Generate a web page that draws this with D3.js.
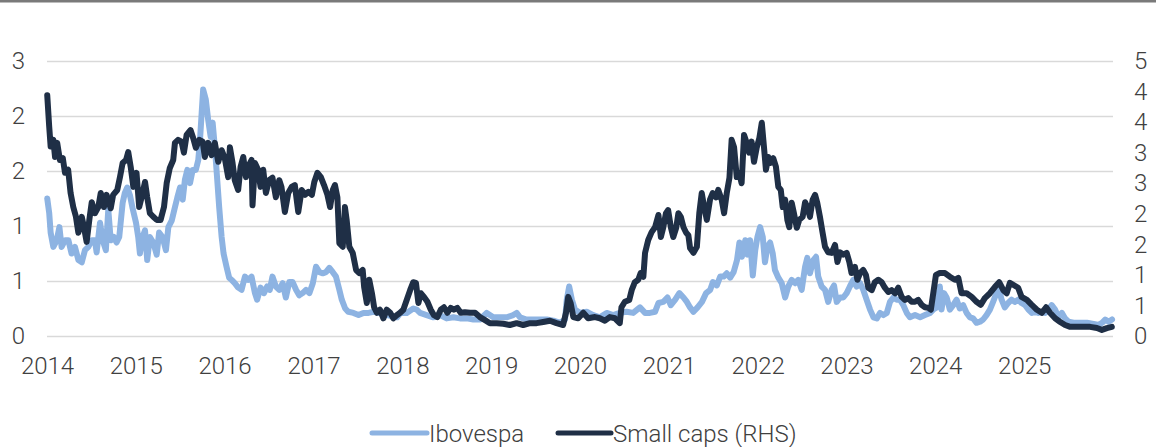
<!DOCTYPE html>
<html>
<head>
<meta charset="utf-8">
<script src="https://cdn.jsdelivr.net/npm/d3@7"></script>
<style>
  html, body { margin: 0; padding: 0; background: #fff; }
  svg { display: block; }
  text { font-family: Roboto, "Noto Sans", sans-serif; font-weight: 300; fill: #404040; }
</style>
</head>
<body>
<svg id="chart" width="1156" height="447"></svg>
<script>
// Ibovespa (left axis)
const ibovDates = [
  "2014-01-02","2014-01-10","2014-01-16","2014-01-27","2014-02-10","2014-02-21","2014-03-02","2014-03-16","2014-03-30","2014-04-12","2014-04-26","2014-05-10","2014-05-24","2014-06-06","2014-06-20","2014-07-04","2014-07-17","2014-07-24","2014-08-07","2014-08-18","2014-08-31","2014-09-10","2014-09-20","2014-10-03","2014-10-14","2014-10-25","2014-11-08","2014-11-17","2014-11-27","2014-12-08","2014-12-19",
  "2015-01-02","2015-01-11","2015-01-18","2015-01-29","2015-02-08","2015-02-17","2015-02-28","2015-03-14","2015-03-28","2015-04-07","2015-04-21","2015-05-05","2015-05-15","2015-05-29","2015-06-11","2015-06-21","2015-07-02","2015-07-13","2015-07-22","2015-08-01","2015-08-12","2015-08-23","2015-09-05","2015-09-15","2015-09-22","2015-09-29","2015-10-05","2015-10-16","2015-10-26","2015-11-05","2015-11-13","2015-11-22","2015-11-29","2015-12-10","2015-12-20","2015-12-28",
  "2016-01-09","2016-01-20","2016-01-30","2016-02-12","2016-02-26","2016-03-11","2016-03-25","2016-04-07","2016-04-21","2016-05-05","2016-05-14","2016-05-28","2016-06-11","2016-06-24","2016-07-05","2016-07-16","2016-07-30","2016-08-13","2016-08-27","2016-09-09","2016-09-23","2016-10-07","2016-10-21","2016-11-03","2016-11-17","2016-12-01","2016-12-15","2016-12-29",
  "2017-01-11","2017-01-25","2017-02-08","2017-02-21","2017-03-07","2017-03-21","2017-04-03","2017-04-17","2017-04-27","2017-05-11","2017-05-24","2017-06-14","2017-07-05","2017-07-25","2017-08-15","2017-09-05","2017-09-25","2017-10-30","2017-12-10","2017-12-24",
  "2018-01-19","2018-02-15","2018-03-01","2018-03-15","2018-04-11","2018-05-08","2018-06-05","2018-07-02","2018-07-30","2018-08-26","2018-09-23","2018-10-20","2018-11-16","2018-12-14",
  "2019-01-10","2019-02-06","2019-03-06","2019-04-02","2019-04-16","2019-04-30","2019-05-27","2019-06-24","2019-07-21","2019-08-18","2019-09-14","2019-10-12","2019-11-01","2019-11-08","2019-11-18","2019-11-29","2019-12-12",
  "2020-01-01","2020-01-29","2020-02-25","2020-03-23","2020-04-20","2020-05-17","2020-06-13","2020-07-11","2020-08-07","2020-09-04","2020-09-25","2020-10-15","2020-11-05","2020-11-19","2020-12-09","2020-12-26",
  "2021-01-09","2021-01-27","2021-02-13","2021-03-02","2021-03-16","2021-03-29","2021-04-12","2021-04-29","2021-05-17","2021-06-03","2021-06-20","2021-07-01","2021-07-17","2021-07-31","2021-08-14","2021-08-27","2021-09-10","2021-09-24","2021-10-08","2021-10-18","2021-10-28","2021-11-11","2021-11-20","2021-12-01","2021-12-12","2021-12-22","2021-12-31",
  "2022-01-11","2022-01-22","2022-01-31","2022-02-10","2022-02-21","2022-03-04","2022-03-13","2022-03-27","2022-04-10","2022-04-24","2022-05-07","2022-05-21","2022-06-04","2022-06-17","2022-07-01","2022-07-15","2022-07-24","2022-08-04","2022-08-18","2022-08-29","2022-09-07","2022-09-21","2022-10-05","2022-10-18","2022-11-01","2022-11-11","2022-11-22","2022-12-06","2022-12-19",
  "2023-01-02","2023-01-15","2023-01-29","2023-02-12","2023-02-26","2023-03-11","2023-03-25","2023-04-08","2023-04-22","2023-05-06","2023-05-19","2023-06-02","2023-06-16","2023-06-29","2023-07-13","2023-07-27","2023-08-09","2023-08-23","2023-09-06","2023-09-19","2023-10-10","2023-10-31","2023-11-20","2023-12-11","2023-12-24",
  "2024-01-07","2024-01-20","2024-01-27","2024-02-06","2024-02-17","2024-03-01","2024-03-15","2024-03-29","2024-04-11","2024-04-25","2024-05-09","2024-05-23","2024-06-05","2024-06-19","2024-07-03","2024-07-16","2024-07-30","2024-08-13","2024-08-26","2024-09-09","2024-09-20","2024-09-30","2024-10-13","2024-10-27","2024-11-10","2024-11-23","2024-12-07","2024-12-21",
  "2025-01-05","2025-01-18","2025-02-01","2025-02-15","2025-02-28","2025-03-14","2025-03-28","2025-04-10","2025-04-24","2025-05-08","2025-05-22","2025-06-05","2025-06-18","2025-07-02","2025-07-23","2025-08-19","2025-09-16","2025-10-13","2025-11-03","2025-11-17","2025-11-30","2025-12-14","2025-12-28"
];
const ibovValues = [
  1.25,1.12,0.94,0.81,0.87,0.99,0.81,0.87,0.87,0.75,0.81,0.69,0.67,0.78,0.81,0.87,0.87,0.76,1.03,0.87,0.78,1.15,0.87,0.90,0.85,0.90,1.21,1.30,1.35,1.28,1.16,
  1.03,0.90,0.75,0.90,0.96,0.69,0.90,0.85,0.74,0.94,0.90,0.78,0.99,1.05,1.17,1.26,1.35,1.24,1.42,1.51,1.39,1.51,1.51,1.60,1.78,2.03,2.24,2.15,1.96,1.81,1.94,1.72,1.51,1.17,0.90,0.75,
  0.63,0.53,0.51,0.48,0.44,0.42,0.54,0.51,0.54,0.39,0.33,0.44,0.39,0.45,0.42,0.54,0.45,0.42,0.48,0.35,0.49,0.49,0.42,0.37,0.39,0.42,0.39,0.48,
  0.63,0.58,0.57,0.58,0.62,0.58,0.54,0.42,0.33,0.25,0.22,0.21,0.19,0.21,0.21,0.22,0.21,0.19,0.17,0.21,
  0.21,0.25,0.24,0.21,0.19,0.17,0.19,0.16,0.17,0.16,0.16,0.15,0.15,0.21,
  0.17,0.17,0.17,0.19,0.21,0.17,0.15,0.15,0.15,0.15,0.14,0.12,0.15,0.33,0.45,0.33,0.24,
  0.21,0.22,0.19,0.17,0.21,0.19,0.21,0.22,0.21,0.26,0.21,0.21,0.22,0.30,0.31,0.35,
  0.28,0.33,0.39,0.35,0.31,0.26,0.22,0.26,0.31,0.39,0.42,0.49,0.46,0.54,0.54,0.57,0.53,0.58,0.69,0.85,0.72,0.87,0.74,0.87,0.55,0.78,0.90,
  0.99,0.90,0.67,0.81,0.85,0.75,0.60,0.53,0.48,0.35,0.45,0.51,0.48,0.51,0.42,0.63,0.71,0.57,0.69,0.72,0.54,0.45,0.42,0.31,0.42,0.46,0.31,0.35,0.35,
  0.39,0.45,0.51,0.45,0.48,0.42,0.33,0.24,0.17,0.16,0.21,0.19,0.21,0.31,0.35,0.33,0.33,0.28,0.21,0.17,0.19,0.17,0.19,0.21,0.24,
  0.26,0.45,0.24,0.39,0.35,0.24,0.28,0.33,0.25,0.28,0.21,0.17,0.16,0.12,0.13,0.15,0.19,0.24,0.31,0.39,0.42,0.33,0.26,0.30,0.33,0.31,0.33,0.30,
  0.28,0.24,0.21,0.22,0.21,0.22,0.21,0.24,0.28,0.24,0.17,0.21,0.16,0.13,0.12,0.12,0.12,0.11,0.10,0.12,0.15,0.13,0.15
];

// Small caps (right axis)
const smallDates = [
  "2014-01-02","2014-01-10","2014-01-16","2014-01-27","2014-02-03","2014-02-12","2014-02-23","2014-03-07","2014-03-16","2014-03-29","2014-04-08","2014-04-19","2014-04-30","2014-05-10","2014-05-24","2014-06-02","2014-06-13","2014-06-24","2014-07-04","2014-07-17","2014-07-31","2014-08-10","2014-08-23","2014-09-03","2014-09-20","2014-09-30","2014-10-17","2014-10-28","2014-11-08","2014-11-22","2014-12-01","2014-12-11","2014-12-22",
  "2015-01-04","2015-01-15","2015-01-25","2015-02-08","2015-02-17","2015-02-28","2015-03-14","2015-03-28","2015-04-13","2015-04-27","2015-05-08","2015-05-21","2015-06-04","2015-06-11","2015-06-24","2015-07-08","2015-07-18","2015-07-29","2015-08-14","2015-08-25","2015-09-05","2015-09-19","2015-10-03","2015-10-12","2015-10-26","2015-11-09","2015-11-22","2015-12-06","2015-12-20",
  "2016-01-02","2016-01-16","2016-01-23","2016-02-03","2016-02-12","2016-02-26","2016-03-07","2016-03-18","2016-03-29","2016-04-07","2016-04-21","2016-04-25","2016-05-05","2016-05-18","2016-05-28","2016-06-08","2016-06-19","2016-07-02","2016-07-16","2016-07-30","2016-08-13","2016-08-22","2016-09-05","2016-09-19","2016-10-03","2016-10-16","2016-10-30","2016-11-13","2016-11-27","2016-12-11","2016-12-25",
  "2017-01-04","2017-01-17","2017-01-31","2017-02-13","2017-02-27","2017-03-10","2017-03-21","2017-03-30","2017-04-09","2017-04-17","2017-05-01","2017-05-10","2017-05-17","2017-05-28","2017-06-11","2017-06-25","2017-07-08","2017-07-22","2017-07-28","2017-08-08","2017-08-18","2017-08-29","2017-09-07","2017-09-18","2017-10-01","2017-10-15","2017-10-29","2017-11-12","2017-11-25","2017-12-09","2017-12-23",
  "2018-01-05","2018-01-19","2018-02-02","2018-02-15","2018-02-26","2018-03-08","2018-03-18","2018-03-31","2018-04-14","2018-04-28","2018-05-11","2018-05-25","2018-06-08","2018-06-21","2018-07-05","2018-07-19","2018-08-01","2018-08-15","2018-08-29","2018-09-15","2018-10-06","2018-10-27","2018-11-16","2018-12-07","2018-12-27",
  "2019-01-24","2019-02-20","2019-03-19","2019-04-16","2019-05-13","2019-06-10","2019-07-07","2019-08-03","2019-08-31","2019-09-27","2019-10-24","2019-11-05","2019-11-14","2019-11-24","2019-12-05","2019-12-25",
  "2020-01-15","2020-02-04","2020-03-03","2020-03-23","2020-04-13","2020-05-03","2020-05-24","2020-06-13","2020-06-20","2020-07-04","2020-07-22","2020-08-01","2020-08-14","2020-08-28","2020-09-07","2020-09-18","2020-09-25","2020-10-08","2020-10-22","2020-11-05","2020-11-19","2020-11-29","2020-12-09","2020-12-20","2020-12-29",
  "2021-01-09","2021-01-19","2021-01-31","2021-02-09","2021-02-19","2021-03-02","2021-03-13","2021-03-22","2021-03-29","2021-04-12","2021-04-26","2021-05-06","2021-05-16","2021-05-26","2021-06-06","2021-06-19","2021-06-30","2021-07-14","2021-07-23","2021-08-06","2021-08-16","2021-08-27","2021-09-07","2021-09-16","2021-09-26","2021-10-07","2021-10-17","2021-10-27","2021-11-06","2021-11-17","2021-11-27","2021-12-07","2021-12-17","2021-12-28",
  "2022-01-08","2022-01-18","2022-01-27","2022-02-04","2022-02-14","2022-02-21","2022-03-06","2022-03-17","2022-03-27","2022-04-06","2022-04-14","2022-04-24","2022-05-03","2022-05-11","2022-05-21","2022-05-30","2022-06-11","2022-06-21","2022-07-05","2022-07-15","2022-07-24","2022-08-04","2022-08-15","2022-08-25","2022-09-03","2022-09-14","2022-09-25","2022-10-05","2022-10-18","2022-11-01","2022-11-15","2022-11-25","2022-12-06","2022-12-19",
  "2023-01-02","2023-01-13","2023-01-22","2023-02-05","2023-02-15","2023-02-26","2023-03-11","2023-03-22","2023-04-01","2023-04-15","2023-04-28","2023-05-12","2023-05-26","2023-06-08","2023-06-22","2023-07-06","2023-07-20","2023-08-02","2023-08-16","2023-08-30","2023-09-12","2023-09-26","2023-10-10","2023-10-23","2023-11-06","2023-11-20","2023-12-04","2023-12-14","2023-12-24",
  "2024-01-04","2024-01-20","2024-02-10","2024-03-01","2024-03-22","2024-04-05","2024-04-18","2024-05-09","2024-05-30","2024-06-19","2024-07-06","2024-07-23","2024-08-13","2024-09-02","2024-09-20","2024-10-07","2024-10-21","2024-11-03","2024-11-20","2024-12-07","2024-12-21",
  "2025-01-12","2025-02-01","2025-02-22","2025-03-14","2025-04-01","2025-04-17","2025-05-08","2025-05-29","2025-06-18","2025-07-09","2025-08-05","2025-09-01","2025-09-29","2025-10-27","2025-11-16","2025-12-07","2025-12-27"
];
const smallValues = [
  3.94,3.43,3.10,3.21,2.93,3.16,2.88,2.91,2.67,2.72,2.34,2.11,1.95,1.69,1.95,1.78,1.54,1.90,2.19,2.01,2.11,2.34,2.11,2.31,2.09,2.31,2.39,2.60,2.83,2.88,3.01,2.77,2.44,
  2.67,2.11,2.27,2.52,2.27,2.01,1.95,1.90,1.90,2.11,2.50,2.75,2.88,3.16,3.21,3.18,3.00,3.29,3.37,3.24,3.08,3.21,3.18,2.93,3.16,2.96,3.16,2.85,3.04,
  2.91,2.60,3.09,2.83,2.55,2.39,2.77,2.93,2.60,2.77,2.88,2.14,2.83,2.72,2.44,2.72,2.34,2.55,2.59,2.27,2.55,2.44,2.03,2.34,2.44,2.47,2.03,2.39,2.31,2.36,2.31,
  2.52,2.67,2.60,2.47,2.31,2.11,2.39,2.47,2.27,1.52,1.46,2.11,1.90,1.46,1.36,1.08,1.03,1.08,0.80,0.54,0.92,0.70,0.47,0.38,0.43,0.29,0.43,0.38,0.29,0.34,0.38,
  0.43,0.59,0.75,0.88,0.87,0.54,0.70,0.64,0.56,0.43,0.34,0.31,0.43,0.47,0.38,0.46,0.43,0.46,0.38,0.39,0.38,0.38,0.31,0.26,0.21,
  0.21,0.20,0.18,0.21,0.18,0.21,0.21,0.23,0.25,0.21,0.18,0.38,0.64,0.54,0.31,0.29,
  0.38,0.29,0.31,0.29,0.25,0.31,0.29,0.21,0.47,0.56,0.59,0.75,0.88,0.92,1.03,0.97,1.36,1.57,1.70,1.78,1.98,1.62,1.78,2.01,2.06,
  1.78,1.62,1.77,2.01,1.95,1.78,1.69,1.65,1.44,1.36,1.46,2.01,2.34,2.11,1.90,2.23,2.34,2.27,2.39,2.23,2.01,2.34,2.59,3.21,3.09,2.60,2.67,2.50,3.29,3.16,3.00,3.18,2.85,3.08,
  3.24,3.49,3.09,2.72,2.93,2.83,2.91,2.77,2.44,2.39,2.11,2.23,1.90,1.78,2.18,2.01,1.77,1.90,1.95,2.19,2.11,1.95,2.23,2.31,2.18,1.95,1.69,1.46,1.37,1.36,1.49,1.21,1.37,1.33,
  1.36,1.21,1.03,1.13,0.92,1.03,1.08,1.00,0.79,0.75,0.88,0.92,0.88,0.79,0.72,0.75,0.70,0.79,0.64,0.59,0.62,0.56,0.56,0.59,0.51,0.47,0.46,0.43,0.70,
  1.00,1.03,1.03,0.97,0.92,0.95,0.70,0.70,0.64,0.56,0.51,0.62,0.70,0.80,0.88,0.75,0.70,0.87,0.83,0.79,0.64,
  0.59,0.51,0.43,0.38,0.47,0.38,0.29,0.23,0.18,0.15,0.15,0.15,0.15,0.13,0.10,0.13,0.15
];

// Axis ticks and their printed labels
const yearTicks = ["2014","2015","2016","2017","2018","2019","2020","2021","2022","2023","2024","2025"];
const leftTicks = [0, 0.5, 1, 1.5, 2, 2.5];
const leftTickLabels = ["0","1","1","2","2","3"];
const rightTicks = [0, 0.5, 1, 1.5, 2, 2.5, 3, 3.5, 4, 4.5];
const rightTickLabels = ["0","1","1","2","2","3","3","4","4","5"];

const seriesNames = ["Ibovespa", "Small caps (RHS)"];
const colors = { ibov: "#8db3e2", small: "#1f2f46" };

const FONT_SIZE = 24;
const LINE_W = 6;

const parse = d3.timeParse("%Y-%m-%d");
const ibov = ibovDates.map((d, i) => ({ date: parse(d), value: ibovValues[i] }));
const small = smallDates.map((d, i) => ({ date: parse(d), value: smallValues[i] }));

const svg = d3.select("#chart");
const plot = { left: 47, right: 1113, top: 61, bottom: 336 };

const x = d3.scaleTime()
  .domain([parse("2014-01-01"), parse("2026-01-01")])
  .range([plot.left, plot.right]);
const yLeft = d3.scaleLinear().domain([0, 2.5]).range([plot.bottom, plot.top]);
const yRight = d3.scaleLinear().domain([0, 4.5]).range([plot.bottom, plot.top]);

// top rule
svg.append("rect").attr("x", 0).attr("y", 0).attr("width", 1156).attr("height", 2.5).attr("fill", "#7a7a7a");

// horizontal gridlines on the left-axis ticks
const grid = svg.append("g")
  .attr("transform", `translate(${plot.left},0)`)
  .call(d3.axisRight(yLeft).tickValues(leftTicks).tickSize(plot.right - plot.left).tickFormat(""));
grid.select(".domain").remove();
grid.selectAll("line").attr("stroke", "#d9d9d9").attr("stroke-width", 1.6);

function styleLabels(g) {
  g.select(".domain").remove();
  g.selectAll("text").attr("font-size", FONT_SIZE).attr("font-family", "Roboto, sans-serif")
    .attr("fill", "#404040").attr("font-weight", 300);
}

// left axis labels
const gL = svg.append("g")
  .attr("transform", `translate(25,0)`)
  .call(d3.axisLeft(yLeft).tickValues(leftTicks).tickSize(0).tickPadding(0)
    .tickFormat((d, i) => leftTickLabels[i]));
styleLabels(gL);

// right axis labels
const gR = svg.append("g")
  .attr("transform", `translate(1134,0)`)
  .call(d3.axisRight(yRight).tickValues(rightTicks).tickSize(0).tickPadding(0)
    .tickFormat((d, i) => rightTickLabels[i]));
styleLabels(gR);

// x axis labels at the start of each year
const gX = svg.append("g")
  .attr("transform", `translate(0,${plot.bottom + 21})`)
  .call(d3.axisBottom(x).tickValues(yearTicks.map(y => parse(y + "-01-01"))).tickSize(0).tickPadding(0)
    .tickFormat((d, i) => yearTicks[i]));
styleLabels(gX);

// series lines
const lineL = d3.line().x(d => x(d.date)).y(d => yLeft(d.value));
const lineR = d3.line().x(d => x(d.date)).y(d => yRight(d.value));

svg.append("path").datum(ibov)
  .attr("d", lineL).attr("fill", "none").attr("stroke", colors.ibov)
  .attr("stroke-width", LINE_W).attr("stroke-linejoin", "round").attr("stroke-linecap", "round");
svg.append("path").datum(small)
  .attr("d", lineR).attr("fill", "none").attr("stroke", colors.small)
  .attr("stroke-width", LINE_W).attr("stroke-linejoin", "round").attr("stroke-linecap", "round");

// legend
const legend = svg.append("g").attr("transform", "translate(0,433)");
const items = [
  { name: seriesNames[0], color: colors.ibov, x0: 372, x1: 427 },
  { name: seriesNames[1], color: colors.small, x0: 558, x1: 611 }
];
items.forEach(it => {
  legend.append("line").attr("x1", it.x0).attr("x2", it.x1).attr("y1", 0).attr("y2", 0)
    .attr("stroke", it.color).attr("stroke-width", 5).attr("stroke-linecap", "round");
  legend.append("text").attr("x", it.x1 + 2).attr("y", 0).attr("dy", "0.36em")
    .attr("font-size", FONT_SIZE).text(it.name);
});
</script>
</body>
</html>
